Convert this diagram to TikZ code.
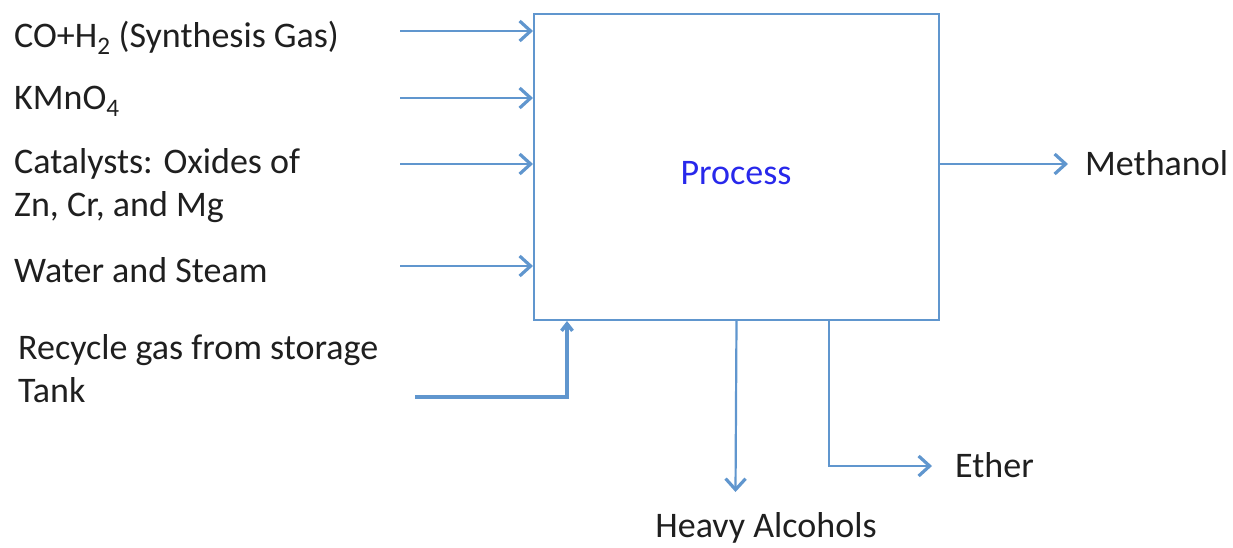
\documentclass[tikz,border=0pt]{standalone}
\usepackage{fontspec}
\setmainfont{Carlito}
\usepackage{xcolor}
\definecolor{flowblue}{RGB}{96,150,206}
\definecolor{procblue}{RGB}{40,40,235}
\usetikzlibrary{positioning,arrows.meta}

\tikzset{
	flow/.style={draw=flowblue, line width=2.2pt, -{Straight Barb[length=11pt,width=20pt,line width=3.2pt]}},
	fatflow/.style={draw=flowblue, line width=4.5pt, -{Straight Barb[length=7pt,width=11pt,line width=3.5pt]}},
	lbl/.style={inner sep=0pt, anchor=base west, text=black!88, font=\fontsize{36}{43}\selectfont}
}

\begin{document}
\begin{tikzpicture}[x=1pt,y=-1pt]
	\useasboundingbox (0,0) rectangle (1233,547);
	\node[
	draw=flowblue,          % light blue border
	line width=2pt,         % border thickness
	minimum width=405pt,    % box width
	minimum height=306pt,   % box height
	inner sep=0pt,
	anchor=north west
	] (proc) at (533,13) {};
	\node[lbl, anchor=base, text=procblue] (proctxt) at (736,184) {Process};
	
	% inputs on the left
	\node[lbl] (syngas) at (14,47) {CO+H\textsubscript{2} (Synthesis Gas)};
	\node[lbl] (kmno) at (14,109) {KMnO\textsubscript{4}};
	\node[lbl] (cata) at (14,173) {Catalysts: Oxides of};
	\node[lbl] (catb) at (14,216) {Zn, Cr, and Mg};
	\node[lbl] (water) at (14,282) {Water and Steam};
	\node[lbl] (recya) at (18,359) {Recycle gas from storage};
	\node[lbl] (recyb) at (18,402) {Tank};
	
	\coordinate (in1) at (400,31);
	\coordinate (in2) at (400,98);
	\coordinate (in3) at (400,164);
	\coordinate (in4) at (400,266);
	\coordinate (rec) at (415,397);
	\foreach \c in {in1,in2,in3,in4}
		\draw[flow] (\c) -- (proc.west |- \c);
	\draw[fatflow] (rec) -| ([xshift=34pt]proc.south west);
	
	% outputs
	\coordinate (meth) at (1068,164);
	\coordinate (heavy) at (735.5,492);
	\coordinate (eth) at (932,466);
	\draw[flow] (proc.east |- meth) -- (meth);
	\draw[flow] (proc.south) -- (heavy);
	\draw[flow] ([xshift=92.5pt]proc.south) |- (eth);
	
	\node[lbl] (methtxt) at (1085,175) {Methanol};
	\node[lbl] (ethtxt) at (955,477) {Ether};
	\node[lbl, anchor=base] (heavytxt) at (766,537) {Heavy Alcohols};
\end{tikzpicture}
\end{document}
